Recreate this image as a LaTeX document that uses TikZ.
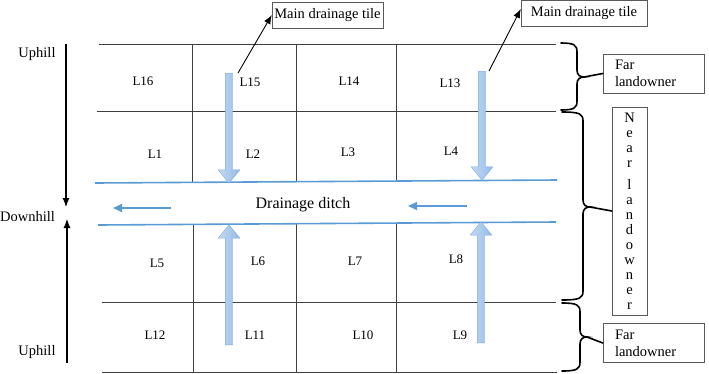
\documentclass[tikz,border=0pt]{standalone}
\usepackage{fontspec}
\setmainfont{Liberation Serif}
\usepackage{tikz}
\usetikzlibrary{arrows.meta,shapes.arrows}
\definecolor{ditchblue}{RGB}{91,155,213}
\definecolor{tileedge}{RGB}{125,170,222}
\definecolor{tilelight}{RGB}{195,217,243}
\definecolor{tiledark}{RGB}{148,187,232}
\tikzstyle{lot} = [font=\fontsize{13}{15}\selectfont]
\tikzstyle{slope} = [font=\fontsize{14.5}{17}\selectfont]
\tikzstyle{labelbox} = [draw=black!65, thin, font=\fontsize{14.5}{17}\selectfont, inner sep=0pt]
\tikzstyle{field} = [draw=black!75, line width=0.6pt]
\tikzstyle{ditch} = [draw=ditchblue, line width=1.6pt]
\tikzstyle{tile} = [single arrow, draw=tileedge, left color=tilelight, right color=tiledark, inner sep=3.5pt, minimum width=16pt, single arrow tip angle=78, anchor=tail]
\tikzstyle{owner} = [line width=1.6pt, line cap=round]
% brace: end x, top y, bottom y, spine x, tip y, tip name
\newcommand{\landbrace}[6]{%
	\draw[owner] (#1,#2) .. controls ({#4-3},#2) and (#4,{#2+2}) .. (#4,{#2+9}) -- (#4,{#5-7})
		.. controls (#4,{#5-2}) and ({#4+3},#5) .. ({#4+7},#5) coordinate (#6)
		.. controls ({#4+3},#5) and (#4,{#5+2}) .. (#4,{#5+7}) -- (#4,{#3-9})
		.. controls (#4,{#3-2}) and ({#4-3},#3) .. (#1,#3);}

\begin{document}
\begin{tikzpicture}[x=1pt, y=-1pt]
	\useasboundingbox (0,0) rectangle (709,373);
	% fields
	\draw[field] (99,44) -- (556,44) (97,111) -- (556,111) (102,302) -- (556,302) (102,372) -- (557,372);
	\draw[field] (192,44) -- (192,182) (296,44) -- (296,182) (396,44) -- (396,181);
	\draw[field] (193,224) -- (193,372) (296,223) -- (296,372) (396,223) -- (396,372);
	\node[lot] (l16) at (143,81) {L16};
	\node[lot] (l15) at (250,82) {L15};
	\node[lot] (l14) at (349,81) {L14};
	\node[lot] (l13) at (450,83) {L13};
	\node[lot] (l1) at (155,154) {L1};
	\node[lot] (l2) at (253,154) {L2};
	\node[lot] (l3) at (348,152) {L3};
	\node[lot] (l4) at (451,151) {L4};
	\node[lot] (l5) at (157,263) {L5};
	\node[lot] (l6) at (258,261) {L6};
	\node[lot] (l7) at (355,261) {L7};
	\node[lot] (l8) at (456,259) {L8};
	\node[lot] (l12) at (155,335) {L12};
	\node[lot] (l11) at (255,335) {L11};
	\node[lot] (l10) at (363,335) {L10};
	\node[lot] (l9) at (460,335) {L9};
	% ditch
	\draw[ditch] (95,183) -- (557,180);
	\draw[ditch] (98,225) -- (556,222);
	\node[font=\fontsize{16}{19}\selectfont] (ditchtext) at (303,205) {Drainage ditch};
	\coordinate (flowa) at (171,208); \coordinate (flowb) at (113,208);
	\coordinate (flowc) at (467,206); \coordinate (flowd) at (408,206);
	\draw[ditch, -{Triangle[length=9pt,width=8pt]}] (flowa) -- (flowb);
	\draw[ditch, -{Triangle[length=9pt,width=8pt]}] (flowc) -- (flowd);
	% tiles
	\node[tile, rotate=-90, minimum height=110pt] (tile1) at (229,73) {};
	\node[tile, rotate=-90, minimum height=109pt] (tile2) at (482,71) {};
	\node[tile, rotate=90, minimum height=120pt] (tile3) at (229,345) {};
	\node[tile, rotate=90, minimum height=121pt] (tile4) at (481,343) {};
	\node[labelbox, minimum width=111pt, minimum height=26pt] (main1) at (327.5,15) {Main drainage tile};
	\node[labelbox, minimum width=126pt, minimum height=26pt] (main2) at (584,13) {Main drainage tile};
	\draw[line width=0.9pt, -{Latex[length=9pt,width=7pt]}] ([xshift=9pt]tile1.tail) -- (main1.west);
	\draw[line width=0.9pt, -{Latex[length=9pt,width=7pt]}] ([xshift=7pt]tile2.tail) -- ([yshift=4pt]main2.west);
	% slope
	\node[slope] (up1) at (37,54) {Uphill};
	\node[slope] (down) at (27.5,217) {Downhill};
	\node[slope] (up2) at (37,352) {Uphill};
	\coordinate (topslope) at (66,44); \coordinate (midtop) at (66,207);
	\coordinate (botslope) at (67,363); \coordinate (midbot) at (67,219);
	\draw[line width=1.1pt, -{Latex[length=9pt,width=7pt]}] (topslope) -- (midtop);
	\draw[line width=1.1pt, -{Latex[length=9pt,width=7pt]}] (botslope) -- (midbot);
	% landowners
	\node[labelbox, minimum width=101pt, minimum height=39pt, text width=77pt, align=left] (far1) at (653.5,73.5) {Far\\landowner};
	\node[labelbox, minimum width=35pt, minimum height=208pt, align=center, font=\fontsize{14.5}{15}\selectfont] (near) at (629.5,211) {N\\e\\a\\r\\[7pt]l\\a\\n\\d\\o\\w\\n\\e\\r};
	\node[labelbox, minimum width=101pt, minimum height=39pt, text width=77pt, align=left] (far2) at (653.5,343) {Far\\landowner};
	\landbrace{561}{43}{110}{577}{77}{tipfar1}
	\landbrace{562}{112}{300}{583}{207}{tipnear}
	\landbrace{562}{303}{371}{580}{337}{tipfar2}
	\draw[owner] (tipfar1) -- (far1.west);
	\draw[owner] (tipnear) -- (near.west);
	\draw[owner] (tipfar2) -- (far2.west);
\end{tikzpicture}
\end{document}
